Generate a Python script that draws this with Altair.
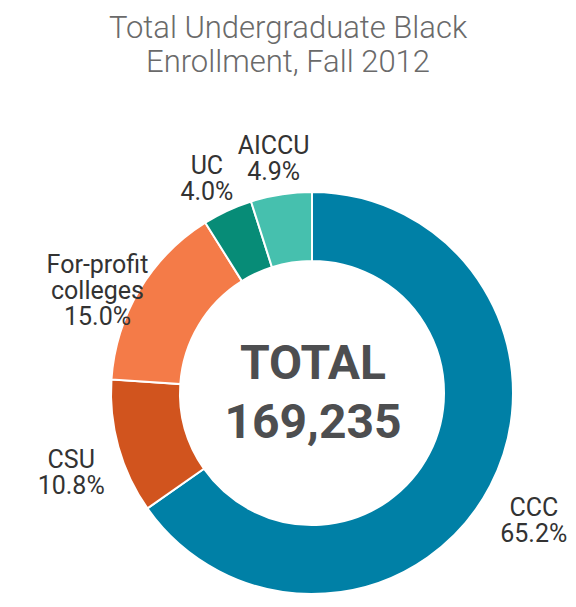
import altair as alt
import pandas as pd

categories = ["CCC", "CSU", "For-profit colleges", "UC", "AICCU"]
label_names = ["CCC", "CSU", "For-profit\ncolleges", "UC", "AICCU"]
shares = [65.2, 10.8, 15.0, 4.0, 4.9]
colors = ["#0080A6", "#D1541E", "#F47B48", "#078C77", "#46C0AE"]
total_enrollment = [169235]

df = pd.DataFrame({
    "category": categories,
    "share": shares,
    "order": list(range(len(categories))),
    "label": [f"{n}\n{v:.1f}%" for n, v in zip(label_names, shares)],
})
center_df = pd.DataFrame({"text": [f"TOTAL\n{v:,}" for v in total_enrollment]})

CX, CY = 304, 295

base = alt.Chart(df).encode(
    theta=alt.Theta("share:Q", stack=True),
    order=alt.Order("order:Q"),
    x=alt.value(CX),
    y=alt.value(CY),
)

arcs = base.mark_arc(outerRadius=201, innerRadius=132, stroke="white", strokeWidth=2).encode(
    color=alt.Color("category:N", scale=alt.Scale(domain=categories, range=colors), legend=None)
)

labels = base.mark_text(
    radius=250, font="Roboto", fontSize=25, lineHeight=26, lineBreak="\n",
    color="#333333", align="center", baseline="middle",
).encode(text="label:N")

center = alt.Chart(center_df).mark_text(
    font="Roboto", fontSize=48, fontWeight="bold", lineHeight=59, lineBreak="\n",
    color="#4D4E50", align="center", baseline="alphabetic",
).encode(text="text:N", x=alt.value(CX + 1), y=alt.value(281))

chart = alt.layer(arcs, labels, center).properties(
    width=560,
    height=496,
    autosize=alt.AutoSizeParams(type="none"),
    padding={"top": 90, "left": 0, "right": 0, "bottom": 0},
    title=alt.TitleParams(
        text=["Total Undergraduate Black", "Enrollment, Fall 2012"],
        font="Roboto", fontSize=31, fontWeight=300, color="#6a6a6a",
        lineHeight=34, anchor="middle", baseline="alphabetic", offset=0, dy=5,
    ),
).configure_view(stroke=None)

chart.save("out.html", embed_options={"renderer": "svg", "actions": False})
